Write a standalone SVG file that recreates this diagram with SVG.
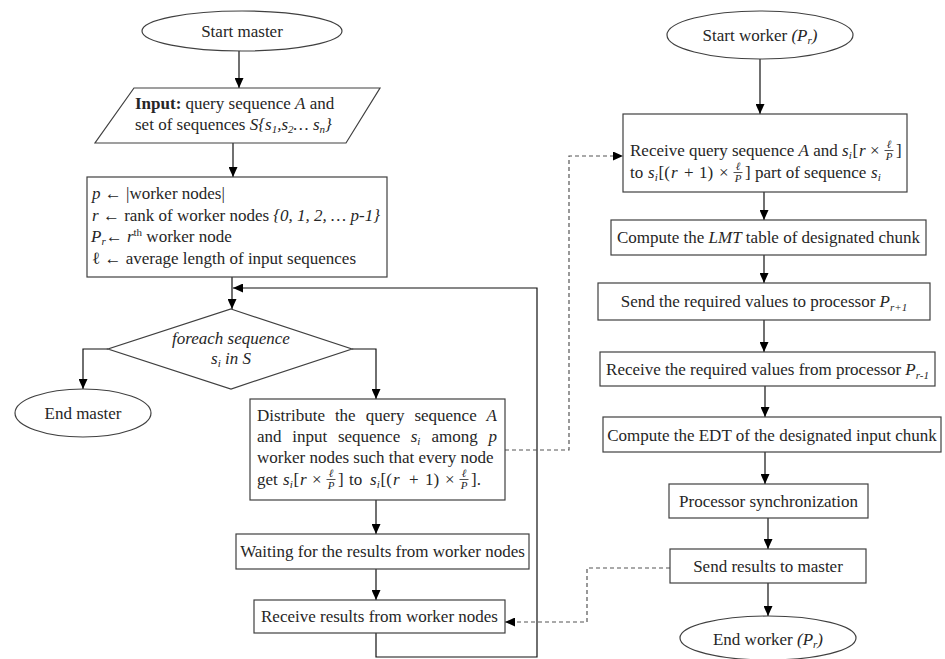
<svg xmlns="http://www.w3.org/2000/svg" width="945" height="659" viewBox="0 0 945 659">
<defs>
<marker id="ah" markerUnits="userSpaceOnUse" markerWidth="10" markerHeight="9" refX="10" refY="4.5" orient="auto"><path d="M0,0 L10,4.5 L0,9 z" fill="#000"/></marker>
<style>
.box{fill:#fff;stroke:#404040;stroke-width:1.2}
.t{font-family:"Liberation Serif","Times New Roman",serif;font-size:17px;fill:#262626}
.it{font-style:italic}
.sm{font-size:11px}
.c{stroke:#111;stroke-width:1.2;fill:none;marker-end:url(#ah)}
.d{stroke:#555;stroke-width:1.2;fill:none;stroke-dasharray:4 3;marker-end:url(#ah)}
.fb{stroke:#262626;stroke-width:0.8}
</style>
</defs>
<rect width="945" height="659" fill="#fff"/>

<!-- connectors -->
<g id="connectors">
<path class="c" d="M239,51 V88"/>
<path class="c" d="M233,143 V177"/>
<path class="c" d="M232,277 V309"/>
<path class="c" d="M376,633 V657 H537 V288 H233"/>
<path class="c" d="M108,349 H83 V389"/>
<path class="c" d="M352,349 H376 V399"/>
<path class="c" d="M376,500 V534"/>
<path class="c" d="M376,569 V600"/>
<path class="d" d="M505,450 H569 V156 H623"/>
<path class="d" d="M670,568 H587 V622 H505"/>
<path class="c" d="M760,59 V114"/>
<path class="c" d="M764,192 V220"/>
<path class="c" d="M764,255 V283"/>
<path class="c" d="M764,320 V352"/>
<path class="c" d="M765,386 V417"/>
<path class="c" d="M765,452 V484"/>
<path class="c" d="M768,518 V549"/>
<path class="c" d="M768,583 V616"/>
</g>

<!-- master side -->
<g id="start-master">
<ellipse class="box" cx="242" cy="31" rx="100" ry="20"/>
<text class="t" x="242" y="37" text-anchor="middle">Start master</text>
</g>

<g id="input">
<polygon class="box" points="134,88 380,88 346,143 95,143"/>
<text class="t" x="135" y="109"><tspan font-weight="bold">Input:</tspan> query sequence <tspan class="it">A</tspan> and</text>
<text class="t" x="135" y="130">set of sequences <tspan class="it">S{s<tspan class="sm" dy="3">1</tspan><tspan dy="-3">,s</tspan><tspan class="sm" dy="3">2</tspan><tspan dy="-3">… s</tspan><tspan class="sm" dy="3">n</tspan><tspan dy="-3">}</tspan></tspan></text>
</g>

<g id="init">
<rect class="box" x="87" y="177" width="300" height="100"/>
<text class="t" x="92" y="199"><tspan class="it">p</tspan> ← |worker nodes|</text>
<text class="t" x="92" y="221"><tspan class="it">r</tspan> ← rank of worker nodes <tspan class="it">{0, 1, 2, … p-1}</tspan></text>
<text class="t" x="91" y="242"><tspan class="it">P<tspan class="sm" dy="3">r</tspan></tspan><tspan dy="-3">← </tspan><tspan class="it">r</tspan><tspan class="sm" dy="-6">th</tspan><tspan dy="6"> worker node</tspan></text>
<text class="t" x="92" y="264">ℓ ← average length of input sequences</text>
</g>

<g id="foreach">
<polygon class="box" points="231,309 352,349 231,389 108,349"/>
<text class="t it" x="231" y="344" text-anchor="middle">foreach sequence</text>
<text class="t it" x="231" y="364" text-anchor="middle">s<tspan class="sm" dy="3">i</tspan><tspan dy="-3"> in S</tspan></text>
</g>

<g id="end-master">
<ellipse class="box" cx="83" cy="413" rx="68" ry="24"/>
<text class="t" x="83" y="419" text-anchor="middle">End master</text>
</g>

<g id="distribute">
<rect class="box" x="250" y="399" width="255" height="101"/>
<text class="t" y="421"><tspan x="257">Distribute</tspan><tspan x="334.9">the</tspan><tspan x="365.7">query</tspan><tspan x="414.4">sequence</tspan><tspan x="486.5" class="it">A</tspan></text>
<text class="t" y="442"><tspan x="257">and</tspan><tspan x="292.2">input</tspan><tspan x="337.9">sequence</tspan><tspan x="410.7" class="it">s</tspan><tspan class="sm it" dy="3">i</tspan><tspan x="431.4" dy="-3">among</tspan><tspan x="488.4" class="it">p</tspan></text>
<text class="t" x="257" y="463">worker nodes such that every node</text>
<text class="t" y="485"><tspan x="257">get</tspan><tspan x="283" class="it">s</tspan><tspan class="sm it" dy="3">i</tspan><tspan x="293.5" dy="-3">[</tspan><tspan x="300" class="it">r</tspan><tspan x="312">×</tspan><tspan x="338">]</tspan><tspan x="349">to</tspan><tspan x="370" class="it">s</tspan><tspan class="sm it" dy="3">i</tspan><tspan x="380.5" dy="-3">[(</tspan><tspan x="393" class="it">r</tspan><tspan x="409">+</tspan><tspan x="425">1)</tspan><tspan x="445">×</tspan><tspan x="471">].</tspan></text>
<text class="t sm it" x="331" y="477" text-anchor="middle">ℓ</text>
<line class="fb" x1="326.5" y1="479.5" x2="335.5" y2="479.5"/>
<text class="t sm it" x="331" y="489" text-anchor="middle">P</text>
<text class="t sm it" x="464" y="477" text-anchor="middle">ℓ</text>
<line class="fb" x1="459.5" y1="479.5" x2="468.5" y2="479.5"/>
<text class="t sm it" x="464" y="489" text-anchor="middle">P</text>
</g>

<g id="waiting">
<rect class="box" x="236" y="534" width="293" height="35"/>
<text class="t" x="382.5" y="557" text-anchor="middle">Waiting for the results from worker nodes</text>
</g>

<g id="receive-results">
<rect class="box" x="254" y="600" width="251" height="33"/>
<text class="t" x="379.5" y="622" text-anchor="middle">Receive results from worker nodes</text>
</g>

<!-- worker side -->
<g id="start-worker">
<ellipse class="box" cx="760" cy="35" rx="93" ry="24"/>
<text class="t" x="760" y="41" text-anchor="middle">Start worker <tspan class="it">(P<tspan class="sm" dy="3">r</tspan><tspan dy="-3">)</tspan></tspan></text>
</g>

<g id="receive-query">
<rect class="box" x="623" y="114" width="284" height="78"/>
<text class="t" y="156"><tspan x="630">Receive query sequence </tspan><tspan class="it">A</tspan><tspan> and</tspan><tspan x="842" class="it">s</tspan><tspan class="sm it" dy="3">i</tspan><tspan x="852.5" dy="-3">[</tspan><tspan x="859" class="it">r</tspan><tspan x="870">×</tspan><tspan x="896">]</tspan></text>
<text class="t sm it" x="889" y="148" text-anchor="middle">ℓ</text>
<line class="fb" x1="884.5" y1="150.5" x2="893.5" y2="150.5"/>
<text class="t sm it" x="889" y="160" text-anchor="middle">P</text>
<text class="t" y="178"><tspan x="630">to</tspan><tspan x="648" class="it">s</tspan><tspan class="sm it" dy="3">i</tspan><tspan x="658.5" dy="-3">[(</tspan><tspan x="671" class="it">r</tspan><tspan x="684">+</tspan><tspan x="699">1)</tspan><tspan x="719">×</tspan><tspan x="745">]</tspan><tspan x="755">part of sequence</tspan><tspan x="871" class="it">s</tspan><tspan class="sm it" dy="3">i</tspan></text>
<text class="t sm it" x="738" y="170" text-anchor="middle">ℓ</text>
<line class="fb" x1="733.5" y1="172.5" x2="742.5" y2="172.5"/>
<text class="t sm it" x="738" y="182" text-anchor="middle">P</text>
</g>

<g id="compute-lmt">
<rect class="box" x="611" y="220" width="315" height="35"/>
<text class="t" x="768.5" y="243" text-anchor="middle">Compute the <tspan class="it">LMT</tspan> table of designated chunk</text>
</g>

<g id="send-values">
<rect class="box" x="598" y="283" width="332" height="37"/>
<text class="t" x="764" y="307" text-anchor="middle">Send the required values to processor <tspan class="it">P<tspan class="sm" dy="4">r+1</tspan></tspan></text>
</g>

<g id="receive-values">
<rect class="box" x="600" y="352" width="335" height="34"/>
<text class="t" x="767.5" y="375" text-anchor="middle">Receive the required values from processor <tspan class="it">P<tspan class="sm" dy="4">r-1</tspan></tspan></text>
</g>

<g id="compute-edt">
<rect class="box" x="603" y="417" width="338" height="35"/>
<text class="t" x="772" y="441" text-anchor="middle">Compute the EDT of the designated input chunk</text>
</g>

<g id="sync">
<rect class="box" x="669" y="484" width="199" height="34"/>
<text class="t" x="768.5" y="507" text-anchor="middle">Processor synchronization</text>
</g>

<g id="send-results">
<rect class="box" x="670" y="549" width="196" height="34"/>
<text class="t" x="768" y="572" text-anchor="middle">Send results to master</text>
</g>

<g id="end-worker">
<ellipse class="box" cx="768" cy="638" rx="88" ry="22"/>
<text class="t" x="768" y="645" text-anchor="middle">End worker <tspan class="it">(P<tspan class="sm" dy="3">r</tspan><tspan dy="-3">)</tspan></tspan></text>
</g>
</svg>
